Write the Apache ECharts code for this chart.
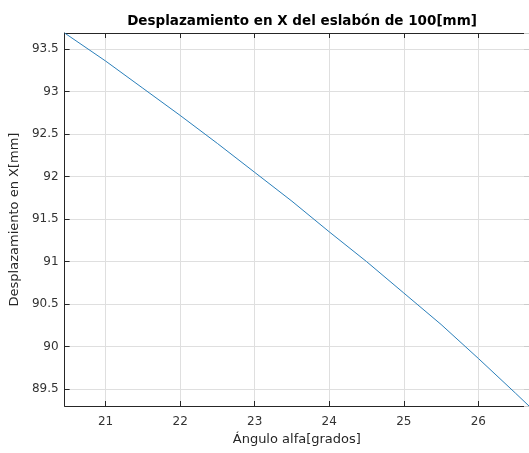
<!DOCTYPE html>
<html>
<head>
<meta charset="utf-8">
<script src="https://cdn.jsdelivr.net/npm/echarts@6/dist/echarts.min.js"></script>
<style>
  html, body { margin: 0; padding: 0; background: #fff; }
  #chart { width: 529px; height: 453px; }
</style>
</head>
<body>
<div id="chart"></div>
<script>
// angle alfa in degrees, x displacement of the 100 mm link
const alfaGrados = [20.45, 21, 21.5, 22, 22.5, 23, 23.5, 24, 24.5, 25, 25.5, 26, 26.5, 26.68];
const desplX = [93.69, 93.36, 93.04, 92.72, 92.39, 92.05, 91.71, 91.35, 91.0, 90.63, 90.26, 89.86, 89.45, 89.3];

const xMin = 20.45;
const xMax = 26.68;
const yMin = 89.3;
const yMax = 93.69;

const fontFamily = '"DejaVu Sans", "Liberation Sans", sans-serif';
const axisColor = '#262626';
const gridColor = '#dfdfdf';

const hideOffTicks = (step) => (v) => {
  const k = v / step;
  return Math.abs(k - Math.round(k)) < 1e-6 ? String(+v.toFixed(2)) : '';
};

const chart = echarts.init(document.getElementById('chart'), null, { renderer: 'canvas' });

chart.setOption({
  animation: false,
  title: {
    text: 'Desplazamiento en X del eslabón de 100[mm]',
    left: 297,
    textAlign: 'center',
    top: 9,
    textStyle: {
      fontFamily,
      fontSize: 13.5,
      fontWeight: 'bold',
      color: '#000',
    },
  },
  grid: {
    left: 64,
    right: 0,
    top: 33,
    bottom: 47,
    containLabel: false,
  },
  xAxis: [
    {
      type: 'value',
      min: xMin,
      max: xMax,
      splitNumber: 6,
      name: 'Ángulo alfa[grados]',
      nameLocation: 'middle',
      nameGap: 24,
      nameTextStyle: { fontFamily, fontSize: 13, color: axisColor },
      axisLine: { show: true, lineStyle: { color: axisColor, width: 1 } },
      axisTick: { show: true, inside: true, length: 5, lineStyle: { color: axisColor } },
      axisLabel: {
        fontFamily,
        fontSize: 12,
        color: '#333',
        margin: 10,
        showMinLabel: false,
        showMaxLabel: false,
        formatter: hideOffTicks(1),
      },
      splitLine: { show: true, lineStyle: { color: gridColor, width: 1 } },
    },
    {
      type: 'value',
      position: 'top',
      min: xMin,
      max: xMax,
      splitNumber: 6,
      axisLine: { show: true, lineStyle: { color: axisColor, width: 1 } },
      axisTick: { show: true, inside: true, length: 5, lineStyle: { color: axisColor } },
      axisLabel: { show: false },
      splitLine: { show: false },
    },
  ],
  yAxis: [
    {
      type: 'value',
      min: yMin,
      max: yMax,
      splitNumber: 9,
      name: 'Desplazamiento en X[mm]',
      nameLocation: 'middle',
      nameGap: 40,
      nameTextStyle: { fontFamily, fontSize: 13, color: axisColor },
      axisLine: { show: true, lineStyle: { color: axisColor, width: 1 } },
      axisTick: { show: true, inside: true, length: 5, lineStyle: { color: axisColor } },
      axisLabel: {
        fontFamily,
        fontSize: 12,
        color: '#333',
        margin: 6,
        showMinLabel: false,
        showMaxLabel: false,
        formatter: hideOffTicks(0.5),
      },
      splitLine: { show: true, lineStyle: { color: gridColor, width: 1 } },
    },
    {
      type: 'value',
      position: 'right',
      min: yMin,
      max: yMax,
      splitNumber: 9,
      axisLine: { show: false },
      axisTick: { show: true, inside: true, length: 5, lineStyle: { color: '#ccc' } },
      axisLabel: { show: false },
      splitLine: { show: false },
    },
  ],
  series: [
    {
      name: 'Desplazamiento',
      type: 'line',
      xAxisIndex: 0,
      yAxisIndex: 0,
      showSymbol: false,
      smooth: false,
      clip: true,
      lineStyle: { width: 1, color: '#2a7fba' },
      data: alfaGrados.map((a, i) => [a, desplX[i]]),
    },
  ],
});
</script>
</body>
</html>
